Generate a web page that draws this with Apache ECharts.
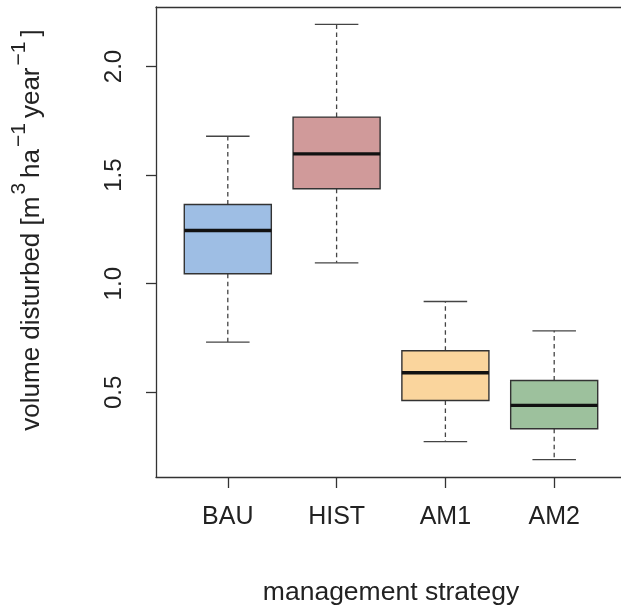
<!DOCTYPE html>
<html>
<head>
<meta charset="utf-8">
<script src="https://cdn.jsdelivr.net/npm/echarts@6/dist/echarts.min.js"></script>
<style>
html,body{margin:0;padding:0;background:#fff;}
#chart{width:621px;height:612px;}
</style>
</head>
<body>
<div id="chart"></div>
<script>
var categories = ['BAU', 'HIST', 'AM1', 'AM2'];
var positions = [1, 2, 3, 4];
var lowerWhisker = [0.731, 1.096, 0.273, 0.190];
var q1 = [1.046, 1.437, 0.462, 0.332];
var median = [1.245, 1.598, 0.590, 0.440];
var q3 = [1.365, 1.767, 0.691, 0.554];
var upperWhisker = [1.679, 2.194, 0.918, 0.783];
var boxColors = ['#9EBEE4', '#D09A9A', '#FAD59D', '#9DC19D'];
var yTicks = [0.5, 1.0, 1.5, 2.0];

var data = positions.map(function (p, i) {
  return [p, lowerWhisker[i], q1[i], median[i], q3[i], upperWhisker[i], i];
});

var FONT = 'Liberation Sans, Arial, Helvetica, sans-serif';
var chart = echarts.init(document.getElementById('chart'), null, {renderer: 'canvas'});

function renderBox(params, api) {
  var x = api.value(0);
  var idx = api.value(6);
  var halfW = 0.4, capW = 0.2;
  var pLowL = api.coord([x - capW, api.value(1)]);
  var pLowR = api.coord([x + capW, api.value(1)]);
  var pUpL = api.coord([x - capW, api.value(5)]);
  var pUpR = api.coord([x + capW, api.value(5)]);
  var c = api.coord([x, api.value(1)]);
  var cq1 = api.coord([x, api.value(2)]);
  var cq3 = api.coord([x, api.value(4)]);
  var cup = api.coord([x, api.value(5)]);
  var bl = api.coord([x - halfW, api.value(4)]);
  var br = api.coord([x + halfW, api.value(2)]);
  var ml = api.coord([x - halfW, api.value(3)]);
  var mr = api.coord([x + halfW, api.value(3)]);
  var dash = {stroke: '#444', lineWidth: 1.3, lineDash: [4.5, 3.5]};
  var solid = {stroke: '#444', lineWidth: 1.3};
  return {
    type: 'group',
    children: [
      {type: 'line', shape: {x1: cq3[0], y1: cq3[1], x2: cup[0], y2: cup[1]}, style: dash},
      {type: 'line', shape: {x1: cq1[0], y1: cq1[1], x2: c[0], y2: c[1]}, style: dash},
      {type: 'line', shape: {x1: pUpL[0], y1: pUpL[1], x2: pUpR[0], y2: pUpR[1]}, style: solid},
      {type: 'line', shape: {x1: pLowL[0], y1: pLowL[1], x2: pLowR[0], y2: pLowR[1]}, style: solid},
      {type: 'rect', shape: {x: bl[0], y: bl[1], width: br[0] - bl[0], height: br[1] - bl[1]},
        style: {fill: boxColors[idx], stroke: '#333', lineWidth: 1.4}},
      {type: 'line', shape: {x1: ml[0], y1: ml[1], x2: mr[0], y2: mr[1]}, style: {stroke: '#111', lineWidth: 3.3}}
    ]
  };
}

var frameLine = {show: true, lineStyle: {color: '#333', width: 1.3}};

var option = {
  animation: false,
  backgroundColor: '#fff',
  grid: {left: 156, top: 7, width: 470, height: 470, show: false,
    containLabel: false, outerBoundsMode: 'none'},
  xAxis: [{
    type: 'value', min: 0.34, max: 4.66, position: 'bottom',
    name: 'management strategy', nameLocation: 'middle', nameGap: 102,
    nameTextStyle: {fontFamily: FONT, fontSize: 26.5, color: '#222'},
    axisLine: frameLine,
    splitLine: {show: false},
    axisTick: {show: true, length: 11, lineStyle: {color: '#333', width: 1.3}, customValues: positions},
    axisLabel: {show: true, margin: 28, fontFamily: FONT, fontSize: 25, color: '#222',
      customValues: positions,
      formatter: function (v) { return categories[Math.round(v) - 1]; }}
  }, {
    type: 'value', min: 0.34, max: 4.66, position: 'top',
    axisLine: frameLine,
    splitLine: {show: false}, axisTick: {show: false}, axisLabel: {show: false}
  }],
  yAxis: {
    type: 'value', min: 0.11, max: 2.274,
    name: '{n|volume disturbed [m}{s|3}{n|ha}{s|−1}{n|year}{s|−1}{n|]}',
    nameLocation: 'middle', nameGap: 111, nameRotate: 90,
    nameTextStyle: {
      fontFamily: FONT, fontSize: 26, color: '#222',
      padding: [0, 0, 0, 24],
      rich: {
        n: {fontFamily: FONT, fontSize: 26, color: '#222', lineHeight: 36, verticalAlign: 'bottom'},
        s: {fontFamily: FONT, fontSize: 21, color: '#222', lineHeight: 36, verticalAlign: 'top', padding: [0, 5, 0, 2]}
      }
    },
    axisLine: frameLine,
    splitLine: {show: false},
    axisTick: {show: true, length: 10, lineStyle: {color: '#333', width: 1.3}, customValues: yTicks},
    axisLabel: {show: true, rotate: 90, margin: 30, fontFamily: FONT, fontSize: 24, color: '#222',
      customValues: yTicks,
      formatter: function (v) { return v.toFixed(1); }}
  },
  series: [{
    type: 'custom',
    renderItem: renderBox,
    data: data,
    encode: {x: 0, y: [1, 2, 3, 4, 5]},
    clip: false
  }]
};
chart.setOption(option);
</script>
</body>
</html>
